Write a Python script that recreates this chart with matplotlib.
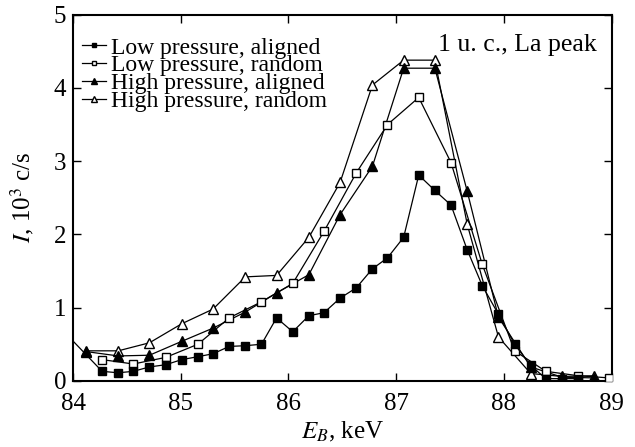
import matplotlib
matplotlib.use('Agg')
import matplotlib.pyplot as plt

plt.rcParams['font.family'] = ['Liberation Serif', 'DejaVu Serif']
plt.rcParams['mathtext.fontset'] = 'stix'

# energies (keV) and intensities (10^3 c/s)
low_al_E = [83.95, 84.27, 84.42, 84.56, 84.71, 84.86, 85.01, 85.16, 85.30, 85.45, 85.60,
            85.75, 85.89, 86.04, 86.19, 86.33, 86.48, 86.63, 86.78, 86.92, 87.07, 87.21,
            87.36, 87.51, 87.66, 87.80, 87.95, 88.10, 88.25, 88.39, 88.54, 88.69]
low_al_I = [0.62, 0.13, 0.11, 0.13, 0.19, 0.22, 0.29, 0.33, 0.37, 0.47, 0.48,
            0.50, 0.86, 0.67, 0.89, 0.93, 1.13, 1.27, 1.53, 1.68, 1.96, 2.81,
            2.60, 2.40, 1.79, 1.30, 0.91, 0.50, 0.21, 0.03, 0.03, 0.03]

low_rand_E = [84.27, 84.56, 84.86, 85.16, 85.45, 85.75, 86.04, 86.33, 86.63, 86.92,
              87.21, 87.51, 87.80, 88.10, 88.39, 88.69, 88.98]
low_rand_I = [0.29, 0.23, 0.32, 0.50, 0.86, 1.08, 1.33, 2.04, 2.84, 3.50,
              3.87, 2.98, 1.59, 0.41, 0.13, 0.07, 0.04]

high_E = [84.12, 84.42, 84.71, 85.01, 85.30, 85.60, 85.89, 86.19, 86.48, 86.78,
          87.07, 87.36, 87.66, 87.95, 88.25, 88.54, 88.84]
high_al_I = [0.40, 0.34, 0.35, 0.54, 0.72, 0.94, 1.20, 1.45, 2.27, 2.93,
             4.27, 4.27, 2.59, 0.87, 0.19, 0.05, 0.04]
high_rand_I = [0.41, 0.41, 0.52, 0.78, 0.98, 1.42, 1.44, 1.96, 2.71, 4.04,
               4.38, 4.38, 2.14, 0.60, 0.10, 0.06, 0.07]

fig = plt.figure(figsize=(6.35, 4.47), dpi=100)
ax = fig.add_axes([0.115, 0.148, 0.848, 0.819])

ms = 5.5
ax.plot(high_E, high_rand_I, 'k-', marker='^', mfc='white', ms=ms + 1, lw=0.9,
        label='High pressure, random', zorder=3)
ax.plot(high_E, high_al_I, 'k-', marker='^', mfc='black', ms=ms + 1, lw=0.9,
        label='High pressure, aligned', zorder=4)
ax.plot(low_rand_E, low_rand_I, 'k-', marker='s', mfc='white', ms=ms, lw=0.9,
        label='Low pressure, random', zorder=5)
ax.plot(low_al_E, low_al_I, 'k-', marker='s', mfc='black', ms=ms, lw=0.9,
        label='Low pressure, aligned', zorder=6)

ax.set_xlim(84, 89)
ax.set_ylim(0, 5)
ax.set_xticks([84, 85, 86, 87, 88, 89])
ax.set_yticks([0, 1, 2, 3, 4, 5])
ax.tick_params(direction='in', length=6, width=1, top=True, right=True, labelsize=18)
ax.tick_params(axis='x', pad=9)
ax.tick_params(axis='y', pad=5)
for s in ax.spines.values():
    s.set_linewidth(1.5)

ax.set_xlabel(r'$E_B$, keV', fontsize=18, labelpad=3)
ax.set_ylabel(r'$I$, 10$^3$ c/s', fontsize=18, labelpad=13)

h, l = ax.get_legend_handles_labels()
leg = ax.legend(h[::-1], l[::-1], loc='upper left', bbox_to_anchor=(0.0, 0.965),
                frameon=False, fontsize=17, handlelength=1.0, handletextpad=0.2,
                labelspacing=-0.16, borderaxespad=0.2, borderpad=0.2, markerscale=0.6)

ax.text(0.972, 0.917, '1 u. c., La peak', transform=ax.transAxes, ha='right',
        va='center', fontsize=18.5)

fig.savefig('out.png', dpi=100)
